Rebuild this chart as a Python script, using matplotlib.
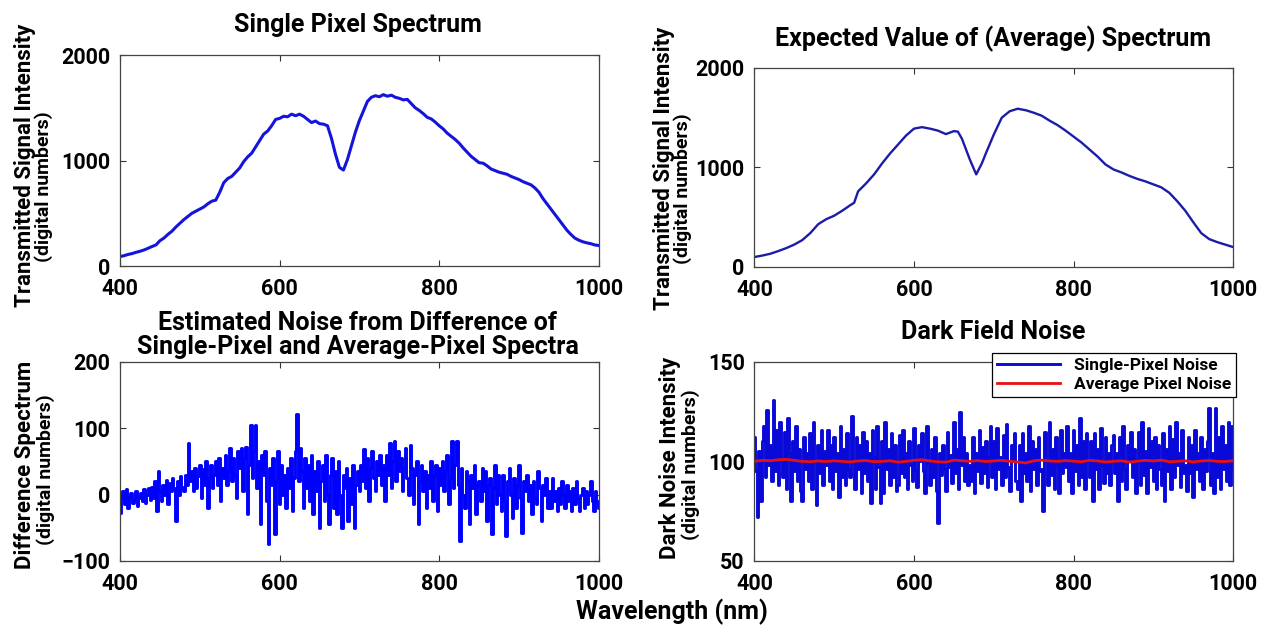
import numpy as np
import matplotlib
matplotlib.use('Agg')
import matplotlib.pyplot as plt

plt.rcParams['font.family'] = ['Roboto', 'DejaVu Sans']
plt.rcParams['font.weight'] = 'bold'

# single pixel spectrum, 5 nm steps (400..1000)
wl_single = np.arange(400, 1001, 5)
single_px = [
    90, 98, 110, 118, 130, 140, 152, 168, 185, 200,
    240, 265, 300, 330, 370, 405, 440, 470, 500, 520,
    540, 560, 590, 615, 625, 700, 790, 830, 850, 890,
    930, 990, 1035, 1070, 1130, 1190, 1250, 1280, 1330, 1390,
    1400, 1420, 1415, 1440, 1425, 1440, 1420, 1390, 1360, 1375,
    1350, 1345, 1330, 1210, 1060, 935, 910, 1010, 1140, 1270,
    1380, 1470, 1560, 1600, 1615, 1605, 1625, 1610, 1620, 1600,
    1590, 1575, 1580, 1540, 1500, 1475, 1445, 1410, 1395, 1365,
    1330, 1300, 1260, 1230, 1200, 1165, 1120, 1080, 1040, 1010,
    980, 975, 950, 920, 905, 890, 880, 870, 850, 835,
    820, 800, 785, 770, 740, 700, 640, 590, 540, 490,
    440, 390, 340, 300, 265, 245, 230, 220, 212, 200,
    195]

# average spectrum
wl_avg = [400, 410, 420, 430, 440, 450, 460, 470, 480, 490,
          500, 510, 520, 525, 530, 540, 550, 560, 570, 580,
          590, 600, 610, 620, 630, 640, 650, 655, 660, 670,
          678, 685, 690, 700, 710, 720, 730, 740, 750, 760,
          770, 780, 790, 800, 810, 820, 830, 840, 850, 860,
          870, 880, 890, 900, 910, 920, 930, 940, 950, 960,
          970, 980, 990, 1000]
avg_spec = [100, 115, 133, 160, 190, 225, 270, 340, 430, 480,
            515, 565, 620, 645, 760, 840, 930, 1040, 1140, 1230,
            1320, 1390, 1405, 1390, 1370, 1335, 1365, 1360, 1290, 1080,
            930, 1040, 1140, 1330, 1500, 1565, 1590, 1575, 1550, 1520,
            1470, 1425, 1370, 1310, 1250, 1180, 1110, 1030, 980, 950,
            915, 885, 860, 830, 800, 745, 660, 565, 450, 340,
            280, 250, 225, 200]

# difference spectrum, 2 nm steps
wl_noise = np.arange(400, 1001, 2)
diff_spec = [
    -28, -5, 5, -15, 8, -20, -3, 2, -12, -8, 5, -18, -5, 3, -10,
    8, -12, 0, 10, -8, 12, -5, 20, -25, 35, 5, -10, 15, 0, 22,
    -15, 18, 5, 25, 10, -40, 20, 0, 28, 12, 5, 30, 15, 78, 20,
    35, 5, 40, 10, 28, 45, -5, 38, 15, 50, -20, 25, 45, 10, 30,
    50, 15, 55, -10, 40, 25, 60, 15, 35, 70, 20, 55, 30, -5, 65,
    40, 70, 5, 55, 72, -30, 45, 105, 25, 65, 105, 10, 50, -45, 60,
    30, 65, -10, -75, 40, 15, 55, -60, 20, 65, -15, 45, 0, 30, -20,
    40, 10, 55, -25, 25, 65, 122, 20, 70, 35, -20, 55, 10, 45, -10,
    60, -30, 35, 5, 50, -50, 20, 45, -10, 60, 0, -45, 30, 55, -20,
    35, -30, 50, 0, -50, 30, 10, 40, -40, 25, -15, 45, -50, 15, 35,
    5, 45, 20, 68, 10, 55, -10, 40, 65, 25, 5, 50, 30, 60, 15,
    45, -10, 60, 30, 78, 10, 50, 80, 20, 65, 35, 55, 5, 40, 70,
    25, 0, 75, 40, -15, 30, 50, -45, 20, 45, 5, 35, -20, 30, 10,
    50, -10, 30, 45, -25, 40, 15, 50, 5, 35, 60, -15, 25, 80, 10,
    45, 80, 15, -70, 40, 0, -20, 35, 20, -45, 30, 10, 45, -30, 15,
    20, -10, 40, 5, 35, -40, 15, 25, -60, 10, 45, -15, 30, 0, -25,
    30, -10, -62, 20, 40, 0, -35, 25, -20, 15, 45, -5, -58, 20, 5,
    30, -10, 15, -30, 20, -5, -15, 35, 10, -40, 15, 0, 25, -20, 5,
    -20, 25, -10, 5, -25, 10, -15, 20, 0, -20, 15, -10, 5, -25, 10,
    -15, 20, -5, -25, 0, 10, -20, 5, -15, 0, 20, -10, -25, 5, -10,
    -20]

# dark field noise, 2 nm steps
dark_single = [
    112, 95, 72, 105, 80, 110, 118, 92, 126, 98, 108, 90, 131, 95, 116,
    88, 120, 100, 92, 115, 86, 122, 104, 80, 110, 95, 118, 90, 106, 85,
    80, 112, 96, 104, 90, 114, 86, 120, 100, 78, 108, 94, 116, 88, 105,
    98, 116, 90, 108, 86, 112, 95, 104, 82, 118, 92, 106, 88, 114, 96,
    92, 123, 100, 86, 112, 96, 108, 84, 115, 94, 110, 90, 104, 79, 116,
    102, 86, 118, 97, 79, 110, 84, 120, 96, 106, 88, 114, 92, 108, 85,
    88, 113, 94, 116, 92, 104, 86, 110, 98, 90, 117, 95, 87, 108, 100,
    114, 95, 84, 118, 99, 88, 106, 92, 112, 85, 69, 104, 93, 108, 96,
    85, 115, 97, 103, 89, 120, 94, 106, 86, 125, 98, 112, 90, 104, 88,
    98, 90, 112, 84, 104, 95, 116, 89, 107, 94, 110, 87, 102, 118, 92,
    110, 86, 117, 96, 102, 88, 113, 92, 119, 97, 85, 108, 100, 114, 90,
    86, 108, 80, 114, 94, 104, 90, 118, 85, 110, 96, 106, 88, 112, 95,
    96, 75, 115, 100, 88, 120, 93, 106, 86, 112, 98, 84, 116, 94, 104,
    97, 118, 90, 104, 84, 116, 95, 108, 88, 122, 92, 110, 86, 114, 100,
    92, 110, 80, 114, 96, 106, 86, 117, 98, 89, 112, 94, 104, 88, 108,
    113, 94, 104, 80, 112, 90, 118, 96, 86, 108, 100, 115, 92, 106, 84,
    100, 115, 88, 120, 93, 105, 84, 117, 97, 110, 90, 112, 86, 108, 96,
    88, 114, 80, 106, 95, 118, 86, 111, 92, 120, 98, 104, 87, 116, 94,
    98, 85, 112, 94, 108, 82, 116, 96, 104, 90, 112, 86, 106, 95, 110,
    127, 88, 104, 84, 127, 92, 112, 86, 118, 96, 108, 90, 120, 88, 118,
    96]

wl_dark_avg = np.arange(400, 1001, 10)
dark_avg = [
    100, 100.5, 100.3, 100.8, 101, 100.5, 100, 99.8, 100.2, 99.9,
    100.3, 100, 99.7, 100.2, 100.4, 99.8, 100, 100.3, 99.6, 100,
    100.5, 100.8, 100.2, 99.8, 99.6, 100.6, 100.3, 100, 100.4, 99.9,
    100.2, 100.5, 100, 99.7, 99.2, 100.3, 100.6, 100.2, 100, 100.4,
    100.1, 99.8, 100.5, 100.2, 99.7, 100, 100.3, 99.6, 100.1, 100.5,
    100.2, 100.6, 99.8, 100, 100.3, 99.7, 100.2, 100.4, 100, 99.9,
    100.3]

W, H = 1270, 626
fig = plt.figure(figsize=(12.7, 6.26), dpi=100)

ax1 = fig.add_axes([0.0945, 0.575, 0.377, 0.337])
ax2 = fig.add_axes([0.594, 0.5735, 0.377, 0.318])
ax3 = fig.add_axes([0.0945, 0.104, 0.377, 0.318])
ax4 = fig.add_axes([0.594, 0.104, 0.377, 0.318])

ax1.plot(wl_single, single_px, color='#1414dc', linewidth=2.2)
ax2.plot(wl_avg, avg_spec, color='#1c1ca8', linewidth=1.7)
ax3.plot(wl_noise, diff_spec, color='#0000ff', linewidth=2.1, drawstyle='steps-mid')
ax4.plot(wl_noise, dark_single, color='#0a0ad8', linewidth=2.1, drawstyle='steps-mid',
         label='Single-Pixel Noise')
ax4.plot(wl_dark_avg, dark_avg, color='#e81010', linewidth=2, label='Average Pixel Noise')

for ax in [ax1, ax2, ax3, ax4]:
    ax.set_xlim(400, 1000)
    ax.set_xticks([400, 600, 800, 1000])
    ax.tick_params(direction='in', length=4, width=0.8, top=True, right=True,
                   labelsize=15.5, colors='#333333', labelcolor='black')
    ax.tick_params(axis='x', pad=8.5)
    ax.tick_params(axis='y', pad=7)
    for s in ax.spines.values():
        s.set_color('#444444')
        s.set_linewidth(0.9)

ax1.set_ylim(0, 2000)
ax1.set_yticks([0, 1000, 2000])
ax2.set_ylim(0, 2000)
ax2.set_yticks([0, 1000, 2000])
ax3.set_ylim(-100, 200)
ax3.set_yticks([-100, 0, 100, 200])
ax4.set_ylim(50, 150)
ax4.set_yticks([50, 100, 150])

# titles
fig.text(358/W, 1-25/H, 'Single Pixel Spectrum', ha='center', va='center', fontsize=18)
fig.text(993/W, 1-39/H, 'Expected Value of (Average) Spectrum', ha='center', va='center', fontsize=18)
fig.text(358/W, 1-335/H, 'Estimated Noise from Difference of\nSingle-Pixel and Average-Pixel Spectra',
         ha='center', va='center', fontsize=18, linespacing=1.0)
fig.text(993/W, 1-332/H, 'Dark Field Noise', ha='center', va='center', fontsize=18)

# two line y labels
def ylab(line1, line2, x1, x2, y1, y2):
    fig.text(x1/W, 1-y1/H, line1, rotation=90, ha='center', va='center', fontsize=16)
    fig.text(x2/W, 1-y2/H, line2, rotation=90, ha='center', va='center', fontsize=14)

ylab('Transmitted Signal Intensity', '(digital numbers)', 25, 44, 165, 187)
ylab('Transmitted Signal Intensity', '(digital numbers)', 664, 683, 168, 189)
ylab('Difference Spectrum', '(digital numbers)', 25, 46, 465, 470)
ylab('Dark Noise Intensity', '(digital numbers)', 670, 691, 458, 465)

fig.text(672/W, 1-612/H, 'Wavelength (nm)', ha='center', va='center', fontsize=18)

leg = ax4.legend(loc='upper right', bbox_to_anchor=(1.006, 1.045), fontsize=12.5,
                 frameon=True, fancybox=False, framealpha=1, borderpad=0.3,
                 handlelength=3.6, labelspacing=0.2, borderaxespad=0)
leg.get_frame().set_edgecolor('black')
leg.get_frame().set_linewidth(0.9)

fig.savefig('out.png', dpi=100)
